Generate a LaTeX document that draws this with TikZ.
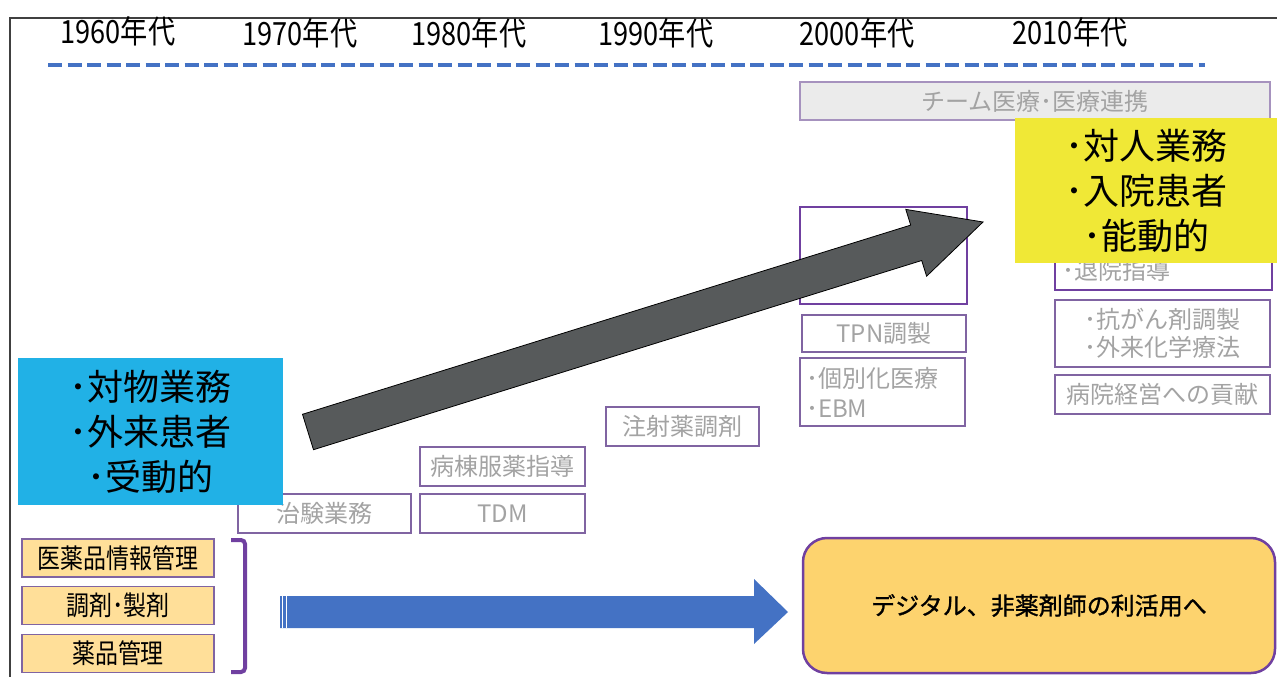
\documentclass[tikz,border=0pt]{standalone}
\usepackage{fontspec}
\setmainfont{Noto Sans CJK JP}
\newfontfamily\yearfont[FakeStretch=0.85]{Noto Sans CJK JP}
\newfontfamily\semibold[FakeBold=1.2]{Noto Sans CJK JP}
\definecolor{dashblue}{HTML}{4472C4}
\definecolor{lpurple}{HTML}{8064A2}
\definecolor{dpurple}{HTML}{7040A0}
\definecolor{graytxt}{HTML}{A3A3A3}
\definecolor{objblue}{HTML}{21B1E6}
\definecolor{subjyellow}{HTML}{F0E836}
\definecolor{beige}{HTML}{FFDF99}
\definecolor{orangebox}{HTML}{FDD36E}
\definecolor{arrowgray}{HTML}{575A5B}
\definecolor{teamgray}{HTML}{EBEBEB}
\definecolor{framegray}{HTML}{404040}
\tikzset{
  yearlbl/.style={inner sep=0pt, font=\yearfont\fontsize{32}{36}\selectfont},
  gbox/.style={draw=lpurple, line width=1.2pt, fill=white, text=graytxt, inner sep=0pt,
    font=\fontsize{24}{30}\selectfont, align=center},
  pbox/.style={draw=dpurple, line width=2.2pt, fill=white, inner sep=0pt},
  bigbox/.style={inner sep=0pt, text=black, font=\fontsize{36}{45}\selectfont, align=center},
  beigebox/.style={draw=lpurple, line width=1.2pt, fill=beige, inner sep=0pt,
    minimum width=192pt, minimum height=38pt, font=\yearfont\fontsize{27}{30}\selectfont},
}
\begin{document}
\begin{tikzpicture}[x=1pt,y=-1pt]
\useasboundingbox (0,0) rectangle (1277,677);
\fill[white] (0,0) rectangle (1277,677);
% frame
\draw[framegray, line width=1.2pt] (10,677) -- (10,18) -- (1277,18);
% years
\node[yearlbl] (y60) at (118,31) {1960年代};
\node[yearlbl] (y70) at (300,33) {1970年代};
\node[yearlbl] (y80) at (469,33) {1980年代};
\node[yearlbl] (y90) at (656,33) {1990年代};
\node[yearlbl] (y00) at (857,33) {2000年代};
\node[yearlbl] (y10) at (1070,32) {2010年代};
% timeline
\coordinate (tl0) at (48,65);
\coordinate (tl1) at (1205,65);
\draw[dashblue, line width=4pt, dash pattern=on 14pt off 5.5pt] (tl0) -- (tl1);
% gray boxes
\node[gbox, fill=teamgray, draw=lpurple!70, minimum width=470pt, minimum height=38pt] (team) at (1035,101) {チーム医療･医療連携};
\node[pbox, minimum width=167pt, minimum height=97pt] (hidden) at (883.5,255.5) {};
\node[pbox, minimum width=217pt, minimum height=85pt] (taiin) at (1163.5,247.5) {};
\node[text=graytxt, inner sep=0pt, anchor=west, font=\fontsize{24}{30}\selectfont] (taiintxt) at (1062,270) {･退院指導};
\node[gbox, minimum width=164pt, minimum height=37pt] (tpn) at (884,333.5) {TPN調製};
\node[gbox, minimum width=165pt, minimum height=68pt, text width=153pt, align=left] (kobetsu) at (882.5,392) {･個別化医療\\･EBM};
\node[gbox, minimum width=215pt, minimum height=67pt, font=\fontsize{24}{28}\selectfont] (kouganzai) at (1162.5,333.5) {･抗がん剤調製\\･外来化学療法};
\node[gbox, minimum width=215pt, minimum height=39pt] (keiei) at (1162.5,394.5) {病院経営への貢献};
\node[gbox, minimum width=153pt, minimum height=39pt] (chusha) at (682.5,426.5) {注射薬調剤};
\node[gbox, minimum width=165pt, minimum height=39pt] (byoto) at (502.5,466.5) {病棟服薬指導};
\node[gbox, minimum width=165pt, minimum height=39pt] (tdm) at (502.5,513.5) {TDM};
\node[gbox, minimum width=173pt, minimum height=39pt] (chiken) at (324.5,513.5) {治験業務};
% blue box
\node[bigbox, fill=objblue, minimum width=265pt, minimum height=147pt] (obj) at (150.5,431.5) {･対物業務\\･外来患者\\･受動的};
% gray arrow
\coordinate (ga0) at (308,432);
\coordinate (ga1) at (983,222);
\draw[black, line width=0.8pt, fill=arrowgray]
  (302.5,414.3) -- (910.7,225.1) -- (905.8,209.4) -- (ga1) -- (926.6,276.2) -- (921.7,260.5) -- (313.5,449.7) -- cycle;
% yellow box
\node[bigbox, fill=subjyellow, minimum width=262pt, minimum height=145pt] (subj) at (1146,190.5) {･対人業務\\･入院患者\\･能動的};
% beige boxes
\node[beigebox] (info) at (118,558) {医薬品情報管理};
\node[beigebox] (chozai) at (118,605.5) {調剤･製剤};
\node[beigebox] (yakuhin) at (118,653.5) {薬品管理};
% bracket
\draw[dpurple, line width=4pt, rounded corners=4pt] (231,540) -- (245,540) -- (245,672) -- (231,672);
% blue arrow
\coordinate (ba0) at (280,612);
\coordinate (ba1) at (788,612);
\fill[dashblue] (280,596) -- (754,596) -- (754,579) -- (ba1) -- (754,644) -- (754,628) -- (280,628) -- cycle;
\draw[white, line width=1.1pt] (282.6,596) -- (282.6,628);
\draw[white, line width=1.1pt] (286.4,596) -- (286.4,628);
% orange rounded box
\node[draw=dpurple, line width=2.5pt, fill=orangebox, rounded corners=24pt, inner sep=0pt,
  minimum width=472pt, minimum height=135pt, font=\semibold\fontsize{24}{28}\selectfont] (digital) at (1039,605.5) {デジタル、非薬剤師の利活用へ};
\end{tikzpicture}
\end{document}
